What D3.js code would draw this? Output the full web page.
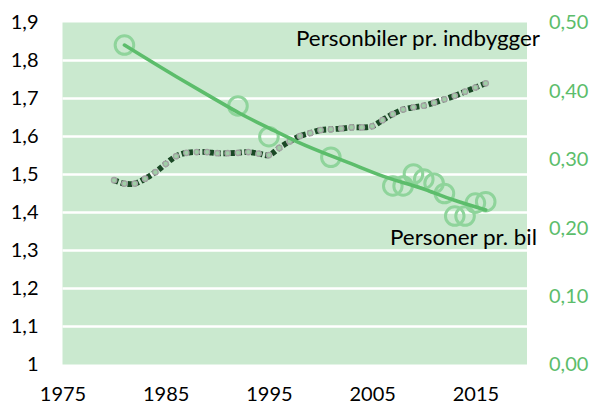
<!DOCTYPE html>
<html>
<head>
<meta charset="utf-8">
<script src="https://cdn.jsdelivr.net/npm/d3@7"></script>
<style>
  html, body { margin: 0; padding: 0; background: #ffffff; }
  svg { display: block; }
  text { font-family: Lato, "Open Sans", sans-serif; }
</style>
</head>
<body>
<svg id="chart" width="595" height="405"></svg>
<script>
// Personbiler pr. indbygger (left axis), yearly
const carYears = d3.range(1980, 2017);
const carsPerCapita = [
  1.485, 1.476, 1.476, 1.489, 1.506, 1.528, 1.548, 1.557, 1.559, 1.559,
  1.556, 1.556, 1.557, 1.559, 1.555, 1.551, 1.570, 1.587, 1.601, 1.609,
  1.617, 1.619, 1.621, 1.624, 1.624, 1.627, 1.643, 1.659, 1.671, 1.677,
  1.681, 1.689, 1.698, 1.707, 1.718, 1.729, 1.740
];

// Personer pr. bil (right axis)
const personYears = [1981, 1992, 1995, 2001, 2007, 2008, 2009, 2010, 2011, 2012, 2013, 2014, 2015, 2016];
const personsPerCar = [0.467, 0.378, 0.333, 0.303, 0.261, 0.261, 0.2785, 0.271, 0.265, 0.250, 0.217, 0.217, 0.236, 0.238];

// Trend curve for Personer pr. bil
const trendYears = [1981, 1986, 1989.3, 1992.2, 1995.1, 1997.7, 2002.9, 2006.1, 2009.7, 2012.9, 2016];
const trendValues = [0.467, 0.421, 0.392, 0.367, 0.345, 0.326, 0.294, 0.275, 0.258, 0.2405, 0.226];

// Axis ticks
const xTicks = [1975, 1985, 1995, 2005, 2015];
const leftTicks = [1, 1.1, 1.2, 1.3, 1.4, 1.5, 1.6, 1.7, 1.8, 1.9];
const rightTicks = [0, 0.1, 0.2, 0.3, 0.4, 0.5];

const plot = { left: 62.5, right: 527, top: 22.5, bottom: 364.5 };
const green = "#5cbd6b";
const svg = d3.select("#chart");

const x = d3.scaleLinear().domain([1975, 2020]).range([plot.left, plot.right]);
const yL = d3.scaleLinear().domain([1, 1.9]).range([plot.bottom, plot.top]);
const yR = d3.scaleLinear().domain([0, 0.5]).range([plot.bottom, plot.top]);

// plot background
svg.append("rect")
  .attr("x", plot.left).attr("y", plot.top)
  .attr("width", plot.right - plot.left).attr("height", plot.bottom - plot.top)
  .attr("fill", "#cae9cf");

// horizontal gridlines
svg.append("g").selectAll("line")
  .data(leftTicks.filter(d => d > 1 && d < 1.9))
  .join("line")
  .attr("x1", plot.left).attr("x2", plot.right)
  .attr("y1", d => yL(d)).attr("y2", d => yL(d))
  .attr("stroke", "#ffffff").attr("stroke-width", 2.6);

const commaFmt = digits => d => (d === 1 && digits === 1) ? "1" : d.toFixed(digits).replace(".", ",");

// axes
const gx = svg.append("g")
  .attr("transform", `translate(0,${plot.bottom})`)
  .call(d3.axisBottom(x).tickValues(xTicks).tickFormat(d3.format("d")).tickSize(0).tickPadding(22));
const gl = svg.append("g")
  .attr("transform", `translate(${plot.left},0)`)
  .call(d3.axisLeft(yL).tickValues(leftTicks).tickFormat(commaFmt(1)).tickSize(0).tickPadding(24));
const gr = svg.append("g")
  .attr("transform", `translate(${plot.right},0)`)
  .call(d3.axisRight(yR).tickValues(rightTicks).tickFormat(commaFmt(2)).tickSize(0).tickPadding(22));

[gx, gl, gr].forEach(g => {
  g.select(".domain").remove();
  g.selectAll("text").style("font-family", "Lato, 'Open Sans', sans-serif").style("font-size", "20px");
});
gx.selectAll("text").attr("fill", "#000");
gl.selectAll("text").attr("fill", "#000");
gr.selectAll("text").attr("fill", green);

// Personbiler pr. indbygger: dark dashed line with grey markers
const carLine = d3.line()
  .x((d, i) => x(carYears[i]))
  .y(d => yL(d))
  .curve(d3.curveCatmullRom.alpha(0.5));
svg.append("path")
  .datum(carsPerCapita)
  .attr("d", carLine)
  .attr("fill", "none")
  .attr("stroke", "#1a4825")
  .attr("stroke-width", 5.8)
  .attr("stroke-dasharray", "4.5 2.5");
svg.append("g").selectAll("circle")
  .data(carsPerCapita)
  .join("circle")
  .attr("cx", (d, i) => x(carYears[i]))
  .attr("cy", d => yL(d))
  .attr("r", 2.7)
  .attr("fill", "#9fcfa6")
  .attr("stroke", "#a3a3a3")
  .attr("stroke-width", 1.3);

// Personer pr. bil: open circles
svg.append("g").selectAll("circle")
  .data(personsPerCar)
  .join("circle")
  .attr("cx", (d, i) => x(personYears[i]))
  .attr("cy", d => yR(d))
  .attr("r", 9.3)
  .attr("fill", "none")
  .attr("stroke", "#8fd49b")
  .attr("stroke-width", 3);

// trend curve
const trendLine = d3.line()
  .x((d, i) => x(trendYears[i]))
  .y(d => yR(d))
  .curve(d3.curveMonotoneX);
svg.append("path")
  .datum(trendValues)
  .attr("d", trendLine)
  .attr("fill", "none")
  .attr("stroke", green)
  .attr("stroke-width", 3.6)
  .attr("stroke-linecap", "round");

// series labels
svg.append("text")
  .attr("x", 296).attr("y", 46)
  .attr("font-size", 20.5).attr("fill", "#000")
  .attr("textLength", 244).attr("lengthAdjust", "spacingAndGlyphs")
  .text("Personbiler pr. indbygger");
svg.append("text")
  .attr("x", 390).attr("y", 244.5)
  .attr("font-size", 20.5).attr("fill", "#000")
  .attr("textLength", 147).attr("lengthAdjust", "spacingAndGlyphs")
  .text("Personer pr. bil");
</script>
</body>
</html>
